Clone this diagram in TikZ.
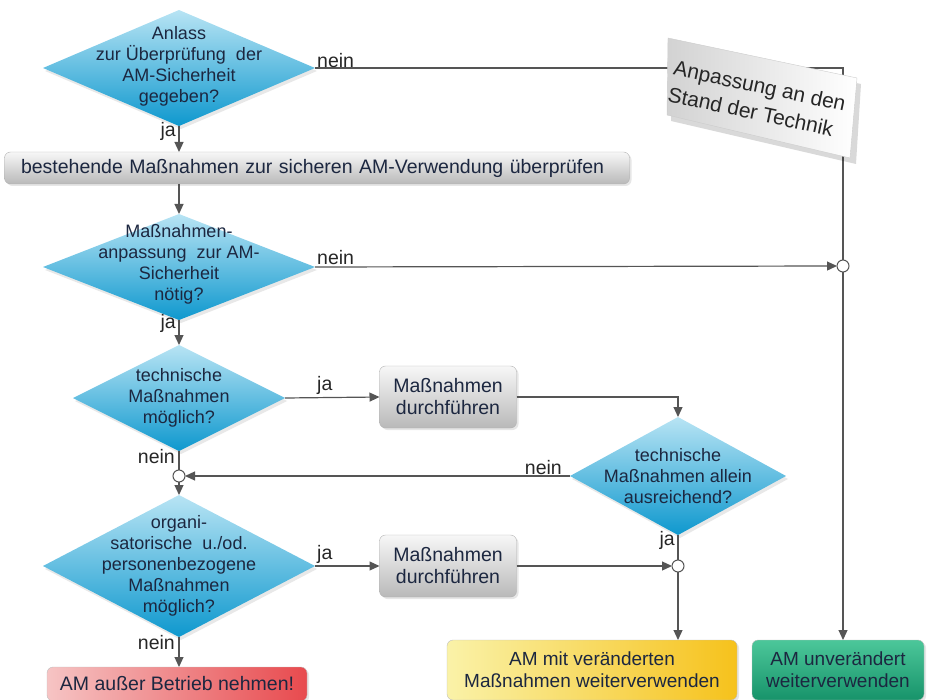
\documentclass[tikz,border=0pt]{standalone}
\usepackage{fontspec}
\setmainfont{Liberation Sans}
\usetikzlibrary{shapes.geometric,arrows.meta,shadows}
\definecolor{diaT}{HTML}{B8E4F4}
\definecolor{diaB}{HTML}{0E98CE}
\definecolor{txt}{HTML}{1C2740}
\definecolor{lin}{HTML}{555555}
\definecolor{redL}{HTML}{F6C4C4}
\definecolor{redR}{HTML}{E84A4E}
\definecolor{yelL}{HTML}{FAF2A8}
\definecolor{yelR}{HTML}{F6C21C}
\definecolor{grnT}{HTML}{4CC79A}
\definecolor{grnB}{HTML}{17936A}
\begin{document}
\begin{tikzpicture}[x=1pt,y=-1pt,
  font=\fontsize{19.5}{22}\selectfont,
  dia/.style={diamond, inner sep=0pt, outer sep=0pt, top color=diaT, bottom color=diaB, draw=none,
    drop shadow={opacity=0.18, shadow xshift=2pt, shadow yshift=-3pt}},
  dtext/.style={align=center, text=txt, inner sep=0pt, font=\fontsize{18}{21}\selectfont},
  gbox/.style={rounded corners=6pt, draw=gray!60, top color=gray!6, bottom color=gray!55, inner sep=0pt, outer sep=0pt,
    align=center, text=txt, drop shadow={opacity=0.2, shadow xshift=2pt, shadow yshift=-2pt}},
  cbox/.style={rounded corners=6pt, draw=gray!50, inner sep=0pt, outer sep=0pt, align=center, text=txt,
    drop shadow={opacity=0.2, shadow xshift=2pt, shadow yshift=-2pt}},
  conn/.style={draw=lin, line width=1.2pt},
  arr/.style={conn, -{Triangle[length=10pt,width=9pt]}},
  junc/.style={circle, draw=lin, fill=white, minimum size=12pt, inner sep=0pt, outer sep=0pt, line width=1pt},
  lbl/.style={inner sep=1pt, text=black!85}
]
\useasboundingbox (0,0) rectangle (928,700);

% nodes
\node[dia, minimum width=272pt, minimum height=116pt] (d1) at (179,68) {};
\node[dtext] (d1t) at (179,66) {Anlass\\zur Überprüfung\ \ der\\AM-Sicherheit\\gegeben?};

\node[gbox, minimum width=625pt, minimum height=32pt, text width=592pt, align=left] (b1) at (317,168) {bestehende Maßnahmen zur sicheren AM-Verwendung überprüfen};

\node[dia, minimum width=272pt, minimum height=106pt] (d2) at (179,267) {};
\node[dtext] (d2t) at (179,264) {Maßnahmen-\\anpassung\ \ zur AM-\\Sicherheit\\nötig?};

\node[dia, minimum width=212pt, minimum height=106pt] (d3) at (179,398) {};
\node[dtext] (d3t) at (179,398) {technische\\Maßnahmen\\möglich?};

\node[gbox, minimum width=137pt, minimum height=62pt] (b2) at (448,397) {Maßnahmen\\durchführen};

\node[dia, minimum width=216pt, minimum height=118pt] (d4) at (678,476) {};
\node[dtext] (d4t) at (678,476) {technische\\Maßnahmen allein\\ausreichend?};

\node[junc] (j1) at (179,476) {};

\node[dia, minimum width=272pt, minimum height=142pt] (d5) at (179,566) {};
\node[dtext] (d5t) at (179,566) {organi-\\satorische\ \ u./od.\\personenbezogene\\Maßnahmen\\möglich?};

\node[gbox, minimum width=137pt, minimum height=62pt] (b3) at (448,566) {Maßnahmen\\durchführen};

\node[junc] (j2) at (678,566) {};
\node[junc] (j3) at (843,266) {};

\node[cbox, left color=redL, right color=redR, minimum width=260pt, minimum height=34pt] (b5) at (177,684) {AM außer Betrieb\ nehmen!};
\node[cbox, left color=yelL, right color=yelR, minimum width=290pt, minimum height=60pt, font=\fontsize{19}{22}\selectfont] (b4) at (592,670) {AM mit veränderten\\Maßnahmen weiterverwenden};
\node[cbox, top color=grnT, bottom color=grnB, minimum width=172pt, minimum height=60pt, font=\fontsize{19}{22}\selectfont] (b6) at (838,670) {AM unverändert\\weiterverwenden};

% connectors
\coordinate (c1) at (843,68);
\draw[conn] (d1.east) -- (c1) -- (j3);
\draw[arr] (d1.south) -- (b1.north -| d1.south);
\draw[arr] (b1.south -| d2.north) -- (d2.north);
\draw[arr] (d2.east) -- (j3.west);
\draw[arr] (j3.south) -- (j3 |- b6.north);
\draw[arr] (d2.south) -- (d3.north);
\draw[arr] (d3.east) -- (b2.west);
\draw[arr] (b2.east) -| (d4.north);
\draw[conn] (d3.south) -- (j1.north);
\draw[arr] (d4.west) -- (j1.east);
\draw[arr] (j1.south) -- (d5.north);
\draw[arr] (d5.east) -- (b3.west);
\draw[arr] (b3.east) -- (j2.west);
\draw[conn] (d4.south) -- (j2.north);
\draw[arr] (j2.south) -- (j2 |- b4.north);
\draw[arr] (d5.south) -- (d5.south |- b5.north);

% labels
\node[lbl, anchor=south west] (l1) at (316,69) {nein};
\node[lbl, anchor=north east] (l2) at (177,121) {ja};
\node[lbl, anchor=south west] (l3) at (316,266) {nein};
\node[lbl, anchor=north east] (l4) at (177,313) {ja};
\node[lbl, anchor=south west] (l5) at (316,396) {ja};
\node[lbl, anchor=north east] (l6) at (176,448) {nein};
\node[lbl, anchor=south east] (l7) at (563,476) {nein};
\node[lbl, anchor=north east] (l8) at (676,530) {ja};
\node[lbl, anchor=south west] (l9) at (316,565) {ja};
\node[lbl, anchor=north east] (l10) at (176,634) {nein};

% tilted card
\fill[black, opacity=0.15] (672,44) -- (861,84) -- (856,164) -- (671,121) -- cycle;
\shade[left color=gray!35, right color=white, draw=gray!40] (668,38) coordinate (k1) -- (857,78) coordinate (k2) -- (850,158) coordinate (k3) -- (667,115) coordinate (k4) -- cycle;
\node[rotate=-12, align=left, inner sep=0pt, text=black!85, font=\fontsize{21}{27}\selectfont] (card) at (757,99) {Anpassung an den\\Stand der Technik};
\end{tikzpicture}
\end{document}
